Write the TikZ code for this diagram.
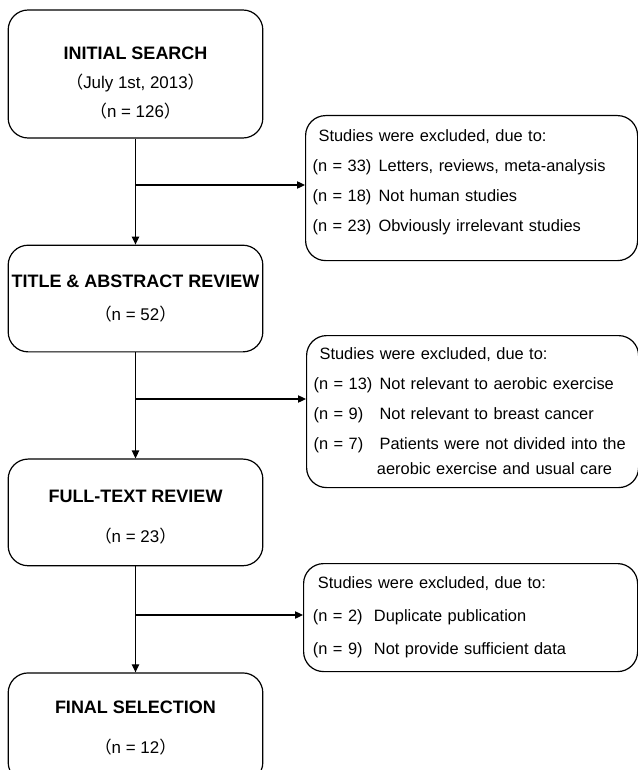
\documentclass[tikz,border=0pt]{standalone}
\usepackage{fontspec}
\setmainfont{Liberation Sans}
\newfontfamily\cjk{Noto Sans CJK SC}
\usetikzlibrary{arrows.meta,positioning}

\newcommand{\fwl}{{\cjk （}}
\newcommand{\fwr}{{\cjk ）}}
\newcommand{\stagetitle}[1]{{\bfseries\fontsize{13.5pt}{16pt}\selectfont #1}}
\newcommand{\nlab}[2][49.5pt]{\makebox[#1][l]{#2}}

\begin{document}
\begin{tikzpicture}[
  x=0.75pt, y=-0.75pt,
  node distance=79.5pt,
  stage/.style={draw, line width=0.9pt, rounded corners=15pt, minimum width=191pt, minimum height=80pt, inner xsep=1pt, align=center, font=\fontsize{12.7pt}{21.4pt}\selectfont},
  excl/.style={draw, line width=0.9pt, rounded corners=15pt, text width=238.5pt, anchor=north west, inner xsep=5.25pt, align=left, font=\fontsize{12.3pt}{22.5pt}\selectfont},
  arrow/.style={-{Triangle[length=6pt, width=5.5pt]}, line width=0.9pt}
]
\clip (0,0) rectangle (638,770);
% stages
\node[stage, minimum height=96pt] (init) at (135.5,74) {\rule{0pt}{23pt}\stagetitle{INITIAL SEARCH}\\ \fwl July 1st, 2013\fwr\\ \fwl n = 126\fwr};
\node[stage, below=of init] (title) {\stagetitle{TITLE \& ABSTRACT REVIEW}\\[3.3pt] \fwl n = 52\fwr};
\node[stage, below=of title] (full) {\rule{0pt}{16pt}\stagetitle{FULL-TEXT REVIEW}\\[8.6pt] \fwl n = 23\fwr};
\node[stage, below=of full, minimum height=82pt] (final) {\stagetitle{FINAL SELECTION}\\[8.6pt] \fwl n = 12\fwr};
% exclusions
\node[excl, minimum height=108.75pt] (ex1) at (305,115) {\hspace*{4.5pt}Studies were excluded, due to:\\
  \nlab{(n = 33)}Letters, reviews, meta-analysis\\
  \nlab{(n = 18)}Not human studies\\
  \nlab{(n = 23)}Obviously irrelevant studies\rule[-12pt]{0pt}{0pt}};
\node[excl, minimum height=114pt] (ex2) at (306,335) {\hspace*{4.5pt}Studies were excluded, due to:\\
  \nlab{(n = 13)}Not relevant to aerobic exercise\\
  \nlab{(n = 9)}Not relevant to breast cancer\\
  \nlab{(n = 7)}Patients were not divided into the\\[-3.75pt]
  \nlab[47.5pt]{}aerobic exercise and usual care};
\node[excl, text width=236.5pt, minimum height=81pt, inner xsep=7pt, font=\fontsize{12.3pt}{24.75pt}\selectfont] (ex3) at (303,563) {\hspace*{3.75pt}Studies were excluded, due to:\\
  \nlab[45.75pt]{(n = 2)}Duplicate publication\\
  \nlab[45.75pt]{(n = 9)}Not provide sufficient data};
% branch points
\coordinate (b1) at (135.5,185);
\coordinate (b2) at (135.5,399);
\coordinate (b3) at (135.5,615);
\draw[arrow] (init.south) -- (title.north);
\draw[arrow] (title.south) -- (full.north);
\draw[arrow] (full.south) -- (final.north);
\draw[arrow] (b1) -- (b1 -| ex1.west);
\draw[arrow] (b2) -- (b2 -| ex2.west);
\draw[arrow] (b3) -- (b3 -| ex3.west);
\end{tikzpicture}
\end{document}
